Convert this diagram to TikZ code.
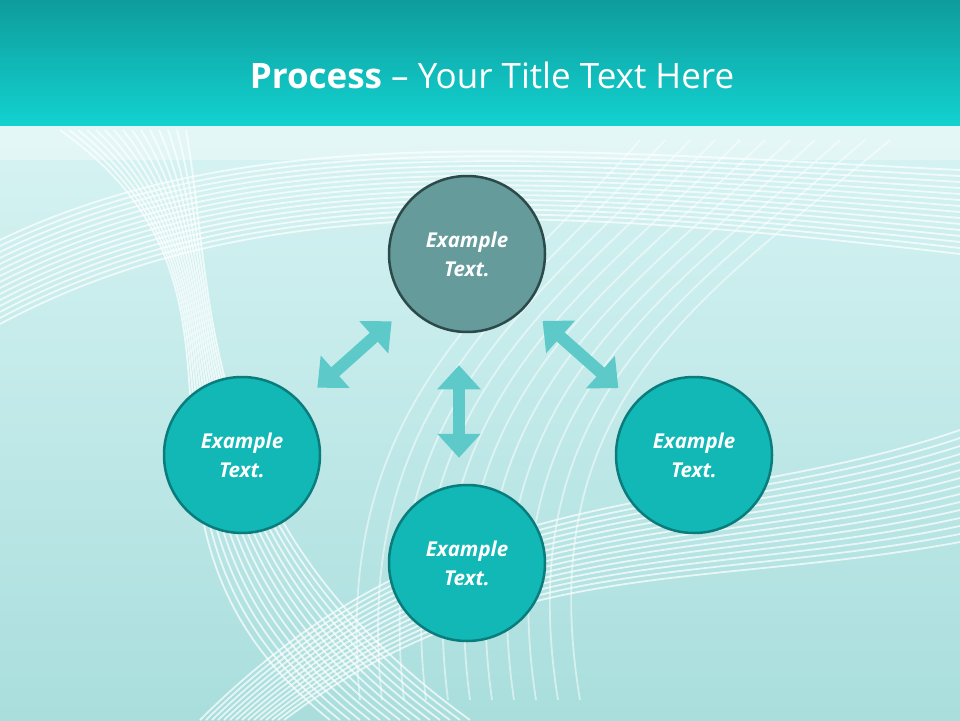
\documentclass[tikz,border=0pt]{standalone}
\usepackage{fontspec}
\setmainfont{Open Sans}
\usetikzlibrary{arrows.meta}
\definecolor{bandtop}{HTML}{0E9C9C}
\definecolor{bandbot}{HTML}{12D2D0}
\definecolor{bgc}{HTML}{C6EEEE}
\definecolor{bgd}{HTML}{A9DEDD}
\definecolor{topfill}{HTML}{659B9B}
\definecolor{topline}{HTML}{2C4A4A}
\definecolor{cfill}{HTML}{11B8B6}
\definecolor{cline}{HTML}{0B7C7C}
\definecolor{arr}{HTML}{5DC9C9}
\tikzset{
  stage/.style={circle,minimum size=156pt,inner sep=0pt,line width=2.5pt,draw=cline,fill=cfill,
    text=white,font=\fontsize{20.5}{29}\selectfont\bfseries\itshape,align=center},
  topstage/.style={stage,draw=topline,fill=topfill},
  dbl/.style={arr,line width=12pt,{Triangle[width=42pt,length=24pt]}-{Triangle[width=42pt,length=24pt]}},
  wave/.style={white,line width=1.8pt,opacity=0.7}
}
\begin{document}
\begin{tikzpicture}[x=1pt,y=-1pt]
\useasboundingbox (0,0) rectangle (960,720);
\shade[top color=bgc!70!white,bottom color=bgd] (0,125) rectangle (960,720);
\fill[white,opacity=0.35] (0,125) rectangle (960,160);
% background waves
\foreach \i in {0,...,14}{
  \draw[wave] (0,{240+6*\i}) .. controls (250,{120+5*\i}) and (550,{150+4*\i}) .. (960,{170+6*\i});
  \draw[wave] ({60+9*\i},130) .. controls ({300-6*\i},300) and ({80+8*\i},520) .. ({330+10*\i},720);
  \draw[wave] ({200+6*\i},720) .. controls ({450+4*\i},{470+6*\i}) and (700,{520+5*\i}) .. (960,{430+8*\i});
}
\foreach \i in {0,...,10}{
  \draw[wave,opacity=0.5] ({360+22*\i},700) .. controls ({330+20*\i},400) and ({500+20*\i},300) .. ({640+25*\i},140);
}
% title band
\shade[top color=bandtop,bottom color=bandbot] (0,0) rectangle (960,125);
\node[text=white,font=\fontsize{35}{40}\selectfont] (title) at (492,75)
  {\textbf{Process} -- Your Title Text Here};
% stages
\node[topstage] (top) at (467,254) {Example\\Text.};
\node[stage] (left) at (242,455) {Example\\Text.};
\node[stage] (right) at (694,455) {Example\\Text.};
\node[stage] (bottom) at (467,563) {Example\\Text.};
% arrows
\draw[dbl,shorten <=101pt,shorten >=101pt] (left.center) -- (top.center);
\draw[dbl,shorten <=101pt,shorten >=101pt] (top.center) -- (right.center);
\draw[dbl,shorten <=32pt,shorten >=26pt] ([xshift=-8pt]top.south) -- ([xshift=-8pt]bottom.north);
\end{tikzpicture}
\end{document}
